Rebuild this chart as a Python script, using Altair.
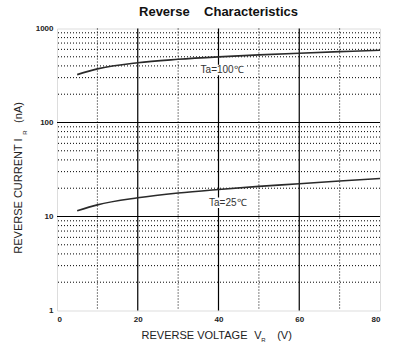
import altair as alt
import pandas as pd

# data
v_pts = [5, 10, 20, 30, 40, 50, 60, 70, 80]
i_100 = [323, 372, 433, 470, 499, 524, 546, 567, 588]
i_25 = [11.5, 13.3, 15.8, 17.8, 19.4, 20.9, 22.3, 23.9, 25.4]

labels = ["Ta=100\u2103", "Ta=25\u2103"]
label_v = [40.9, 42.3]
label_i = [362, 14.0]

x_major = [20, 40, 60]
x_minor = [10, 30, 50, 70]
y_major = [10, 100]
y_minor = [m * d for d in [1, 10, 100] for m in range(2, 10)]
x_ticks = [0, 20, 40, 60, 80]
y_ticks = [1, 10, 100, 1000]

W, H = 323, 282
FONT = "Liberation Sans"
NB = "\u00a0"

xs = alt.Scale(domain=[0, 80], nice=False, zero=False)
ys = alt.Scale(type="log", domain=[1, 1000], nice=False)

df = pd.DataFrame({"v": v_pts * 2, "i": i_100 + i_25,
                   "s": ["100"] * len(v_pts) + ["25"] * len(v_pts)})

xminor = alt.Chart(pd.DataFrame({"v": x_minor})).mark_rule(
    color="black", strokeWidth=1, strokeDash=[1, 2]).encode(x=alt.X("v:Q", scale=xs))
yminor = alt.Chart(pd.DataFrame({"i": y_minor})).mark_rule(
    color="black", strokeWidth=1, strokeDash=[1, 2]).encode(y=alt.Y("i:Q", scale=ys))
xmajor = alt.Chart(pd.DataFrame({"v": x_major})).mark_rule(
    color="black", strokeWidth=1.2).encode(x=alt.X("v:Q", scale=xs))
ymajor = alt.Chart(pd.DataFrame({"i": y_major})).mark_rule(
    color="black", strokeWidth=1.2).encode(y=alt.Y("i:Q", scale=ys))

lines = alt.Chart(df).mark_line(color="#2a2a2a", strokeWidth=1.6, interpolate="monotone").encode(
    x=alt.X("v:Q", scale=xs,
            axis=alt.Axis(values=x_ticks, title=None, grid=False, ticks=False, domain=False,
                          labelFontSize=8, labelFont=FONT, labelFontWeight="bold",
                          labelPadding=5, labelColor="#222")),
    y=alt.Y("i:Q", scale=ys,
            axis=alt.Axis(values=y_ticks, title=None, grid=False, ticks=False, domain=False,
                          labelFontSize=8, labelFont=FONT, labelFontWeight="bold",
                          labelPadding=4, labelColor="#222", format="d")),
    detail="s:N",
)

lab_df = pd.DataFrame({"t": labels, "v": label_v, "i": label_i})
lab_bg = alt.Chart(lab_df).transform_calculate(
    v1="datum.v - 5.8", v2="datum.v + 5.8",
    i1="datum.i / 1.14", i2="datum.i * 1.14",
).mark_rect(color="white", opacity=1).encode(
    x=alt.X("v1:Q", scale=xs), x2="v2:Q",
    y=alt.Y("i1:Q", scale=ys), y2="i2:Q")
lab = alt.Chart(lab_df).mark_text(
    font=FONT, fontSize=10, color="#333").encode(
    x=alt.X("v:Q", scale=xs), y=alt.Y("i:Q", scale=ys), text="t:N")

def txt(s, x, y, size=11, angle=0, align="center"):
    return alt.Chart(pd.DataFrame({"t": [s]})).mark_text(
        font=FONT, fontSize=size, color="#222", angle=angle, align=align, baseline="middle").encode(
        x=alt.value(x), y=alt.value(y), text="t:N")

titles = [
    txt("REVERSE VOLTAGE", 137.5, 307),
    txt("V", 201, 307),
    txt("R", 206.5, 311.5, size=6),
    txt("(V)", 227.5, 307),
    txt("REVERSE CURRENT", -38, 170.5, angle=270),
    txt("I", -38, 111.5, angle=270),
    txt("R", -32, 104, size=6, angle=270),
    txt("(nA)", -38, 84, angle=270),
]

chart = alt.layer(yminor, xminor, ymajor, xmajor, lines, lab_bg, lab, *titles).properties(
    width=W, height=H,
    title=alt.TitleParams("Reverse" + NB * 4 + "Characteristics", font=FONT, fontSize=13,
                          fontWeight="bold", color="#111", offset=6),
    autosize=alt.AutoSizeParams(type="none"),
    padding={"left": 57, "top": 28.5, "right": 20, "bottom": 42},
).configure_view(stroke="black", strokeWidth=2).configure(background="white")

chart.save("out.html", embed_options={"renderer": "svg", "actions": False})
